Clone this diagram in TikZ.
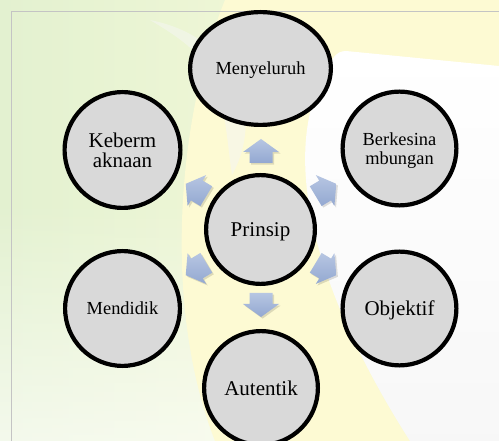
\documentclass[tikz,border=0pt]{standalone}
\usepackage{fontspec}
\setmainfont{Liberation Serif}
\newfontfamily\tnrfont{Liberation Serif}
\usetikzlibrary{fadings,shapes.geometric}
\definecolor{bgL}{HTML}{E3F1D0}
\definecolor{bgR}{HTML}{FBFCDC}
\definecolor{bandY}{HTML}{FDFAD3}
\definecolor{circfill}{HTML}{D9D9D9}
\definecolor{arrTop}{HTML}{B7C6E2}
\definecolor{arrBot}{HTML}{93A8D1}
\definecolor{framec}{HTML}{C4C4C4}
\tikzset{
  circ/.style={circle, draw=black, line width=4.2pt, fill=circfill, inner sep=0pt,
    text depth=0pt, align=center},
  bigtxt/.style={font=\tnrfont\fontsize{21}{20}\selectfont},
  smalltxt/.style={font=\tnrfont\fontsize{18.4}{18.5}\selectfont},
  blkarrow/.pic={
    \fill[black, opacity=0.13, shift={(1.6,1.6)}, rotate=#1]
      (-12,-11.5) -- (-1,-11.5) -- (-1,-18) -- (12,0) -- (-1,18) -- (-1,11.5) -- (-12,11.5) -- cycle;
    \shade[top color=arrTop, bottom color=arrBot, rotate=#1]
      (-12,-11.5) -- (-1,-11.5) -- (-1,-18) -- (12,0) -- (-1,18) -- (-1,11.5) -- (-12,11.5) -- cycle;
  }
}
\begin{document}
\begin{tikzpicture}[x=1pt,y=-1pt]
\useasboundingbox (0,0) rectangle (499,441);
% background
\shade[left color=bgL, right color=bgR] (0,0) rectangle (499,441);
\fill[white, opacity=0.6, path fading=north] (0,200) rectangle (240,441);
% yellow swoosh band
\fill[bandY] (225,0) .. controls (180,110) and (160,300) .. (215,441)
  -- (410,441) .. controls (320,300) and (270,150) .. (340,52) -- (499,68) -- (499,0) -- cycle;
% whitish streak
\fill[white!92!gray, opacity=0.5] (150,20) .. controls (200,30) and (235,60) .. (245,110)
  .. controls (248,140) and (240,160) .. (232,175) .. controls (228,150) and (226,110) .. (215,80)
  .. controls (200,50) and (175,35) .. cycle;
% white region right
\shade[top color=white, bottom color=white!94!gray] (346,51) -- (499,66) -- (499,441) -- (410,441)
  .. controls (320,300) and (270,150) .. (334,57) .. controls (337,53) and (341,51) .. (346,51) -- cycle;
% frame
\draw[framec, line width=1pt] (499,12) -- (11,12) -- (11,441);

% arrows
\pic (aU)  at (261,151) {blkarrow=90};
\pic (aD)  at (261,305) {blkarrow=-90};
\pic (aUR) at (326,190) {blkarrow=31};
\pic (aLR) at (326,269) {blkarrow=-31};
\pic (aUL) at (196,190) {blkarrow=149};
\pic (aLL) at (196,269) {blkarrow=-149};

% circles
\node[circ, bigtxt, minimum size=108.8pt] (prinsip) at (260.5,229.5) {Prinsip};
\node[draw=black, line width=4.2pt, fill=circfill, ellipse, inner sep=0pt,
      minimum width=140.8pt, minimum height=112.8pt, smalltxt, text depth=0pt] (menyeluruh) at (260.5,68.5) {Menyeluruh};
\node[circ, bigtxt, minimum size=115.8pt, yshift=2pt] (kebermaknaan) at (122.5,152) {Keberm\\aknaan};
\node[circ, smalltxt, minimum size=113.8pt] (berkesinambungan) at (399.5,148.5) {Berkesina\\mbungan};
\node[circ, smalltxt, minimum size=114.8pt] (mendidik) at (122.5,308.5) {Mendidik};
\node[circ, bigtxt, minimum size=113.8pt] (objektif) at (399.5,308.5) {Objektif};
\node[circ, bigtxt, minimum size=113.8pt] (autentik) at (261,388) {Autentik};
\end{tikzpicture}
\end{document}
